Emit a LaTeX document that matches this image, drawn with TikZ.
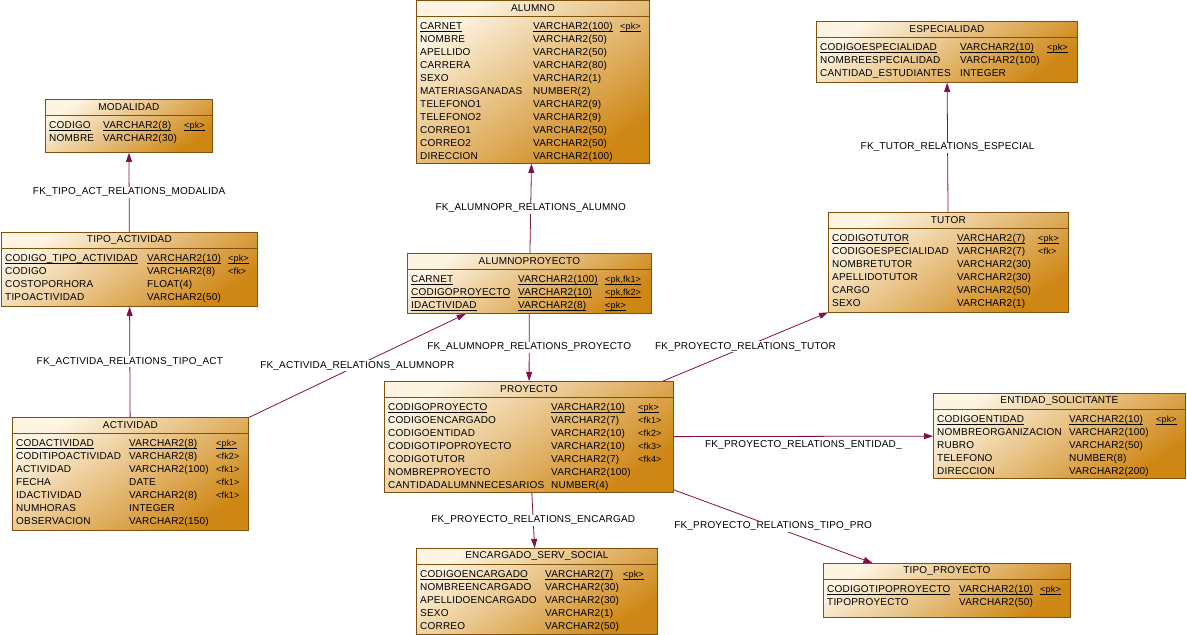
\documentclass[tikz,border=0pt]{standalone}
\usepackage{fontspec}
\setmainfont[LetterSpace=2]{Liberation Sans}
\usepackage{array}
\usepackage{tikz}
\usetikzlibrary{arrows.meta, shapes}

\definecolor{entitylight}{RGB}{253,244,226}
\definecolor{entitydark}{RGB}{206,134,20}
\definecolor{entityedge}{RGB}{128,80,12}
\definecolor{fkcolor}{RGB}{128,16,72}

\setlength{\tabcolsep}{0pt}
\newcolumntype{K}{>{\fontsize{9}{13}\selectfont}l}
\newcommand{\pkul}[1]{\underline{\smash{#1}\rule[-0.8pt]{0pt}{0pt}}}

\begin{document}
\begin{tikzpicture}[x=1pt, y=-1pt, font=\fontsize{10}{13}\selectfont,
  entity/.style={rectangle, draw=entityedge, line width=0.8pt,
    top color=entitylight, bottom color=entitydark, shading angle=35,
    anchor=north west, inner sep=0pt},
  %
  title/.style={anchor=north, minimum height=16.5pt, inner sep=0pt},
  %
  fields/.style={anchor=north west, inner xsep=4pt, inner ysep=3.5pt},
  %
  sepline/.style={draw=entityedge, line width=0.6pt},
  %
  fk/.style={draw=fkcolor, line width=0.8pt, -{Triangle[length=9pt,width=6pt]}},
  %
  fklabel/.style={midway, fill=white, inner sep=1pt}
  ]

  \useasboundingbox (0,0) rectangle (1187,635);

  \begin{scope}
    %%%%%%%%%%%%%%%%%%%%%%%%%%%%%%%
    \node [entity, minimum width=167, minimum height=53] (modalidad) at (45,99) {};
    \node [title] (modalidadT) at (modalidad.north) {MODALIDAD};
    \draw [sepline] ([yshift=-16.5pt]modalidad.north west) -- ([yshift=-16.5pt]modalidad.north east);
    \node [fields] (modalidadF) at ([yshift=-16.5pt]modalidad.north west) {%
      \begin{tabular}{@{}p{54pt}p{81pt}K@{}}
        \pkul{CODIGO} & \pkul{VARCHAR2(8)} & \pkul{<pk>}\\
        NOMBRE & VARCHAR2(30) & \\
      \end{tabular}};
    %%%%%%%%%%%%%%%%%%%%%%%%%%%%%%%
    \node [entity, minimum width=256, minimum height=74] (tipoact) at (1,232) {};
    \node [title] (tipoactT) at (tipoact.north) {TIPO\_ACTIVIDAD};
    \draw [sepline] ([yshift=-16.5pt]tipoact.north west) -- ([yshift=-16.5pt]tipoact.north east);
    \node [fields] (tipoactF) at ([yshift=-16.5pt]tipoact.north west) {%
      \begin{tabular}{@{}p{142pt}p{81pt}K@{}}
        \pkul{CODIGO\_TIPO\_ACTIVIDAD} & \pkul{VARCHAR2(10)} & \pkul{<pk>}\\
        CODIGO & VARCHAR2(8) & <fk>\\
        COSTOPORHORA & FLOAT(4) & \\
        TIPOACTIVIDAD & VARCHAR2(50) & \\
      \end{tabular}};
    %%%%%%%%%%%%%%%%%%%%%%%%%%%%%%%
    \node [entity, minimum width=236, minimum height=113] (actividad) at (12,417) {};
    \node [title] (actividadT) at (actividad.north) {ACTIVIDAD};
    \draw [sepline] ([yshift=-16.5pt]actividad.north west) -- ([yshift=-16.5pt]actividad.north east);
    \node [fields] (actividadF) at ([yshift=-16.5pt]actividad.north west) {%
      \begin{tabular}{@{}p{113pt}p{87pt}K@{}}
        \pkul{CODACTIVIDAD} & \pkul{VARCHAR2(8)} & \pkul{<pk>}\\
        CODITIPOACTIVIDAD & VARCHAR2(8) & <fk2>\\
        ACTIVIDAD & VARCHAR2(100) & <fk1>\\
        FECHA & DATE & <fk1>\\
        IDACTIVIDAD & VARCHAR2(8) & <fk1>\\
        NUMHORAS & INTEGER & \\
        OBSERVACION & VARCHAR2(150) & \\
      \end{tabular}};
    %%%%%%%%%%%%%%%%%%%%%%%%%%%%%%%
    \node [entity, minimum width=233, minimum height=163] (alumno) at (416,0) {};
    \node [title] (alumnoT) at (alumno.north) {ALUMNO};
    \draw [sepline] ([yshift=-16.5pt]alumno.north west) -- ([yshift=-16.5pt]alumno.north east);
    \node [fields] (alumnoF) at ([yshift=-16.5pt]alumno.north west) {%
      \begin{tabular}{@{}p{113pt}p{87pt}K@{}}
        \pkul{CARNET} & \pkul{VARCHAR2(100)} & \pkul{<pk>}\\
        NOMBRE & VARCHAR2(50) & \\
        APELLIDO & VARCHAR2(50) & \\
        CARRERA & VARCHAR2(80) & \\
        SEXO & VARCHAR2(1) & \\
        MATERIASGANADAS & NUMBER(2) & \\
        TELEFONO1 & VARCHAR2(9) & \\
        TELEFONO2 & VARCHAR2(9) & \\
        CORREO1 & VARCHAR2(50) & \\
        CORREO2 & VARCHAR2(50) & \\
        DIRECCION & VARCHAR2(100) & \\
      \end{tabular}};
    %%%%%%%%%%%%%%%%%%%%%%%%%%%%%%%
    \node [entity, minimum width=244, minimum height=60] (alumnoproy) at (407,253) {};
    \node [title] (alumnoproyT) at (alumnoproy.north) {ALUMNOPROYECTO};
    \draw [sepline] ([yshift=-16.5pt]alumnoproy.north west) -- ([yshift=-16.5pt]alumnoproy.north east);
    \node [fields] (alumnoproyF) at ([yshift=-16.5pt]alumnoproy.north west) {%
      \begin{tabular}{@{}p{107pt}p{87pt}K@{}}
        \pkul{CARNET} & \pkul{VARCHAR2(100)} & \pkul{<pk,fk1>}\\
        \pkul{CODIGOPROYECTO} & \pkul{VARCHAR2(10)} & \pkul{<pk,fk2>}\\
        \pkul{IDACTIVIDAD} & \pkul{VARCHAR2(8)} & \pkul{<pk>}\\
      \end{tabular}};
    %%%%%%%%%%%%%%%%%%%%%%%%%%%%%%%
    \node [entity, minimum width=289, minimum height=111] (proyecto) at (384,381) {};
    \node [title] (proyectoT) at (proyecto.north) {PROYECTO};
    \draw [sepline] ([yshift=-16.5pt]proyecto.north west) -- ([yshift=-16.5pt]proyecto.north east);
    \node [fields] (proyectoF) at ([yshift=-16.5pt]proyecto.north west) {%
      \begin{tabular}{@{}p{163pt}p{87pt}K@{}}
        \pkul{CODIGOPROYECTO} & \pkul{VARCHAR2(10)} & \pkul{<pk>}\\
        CODIGOENCARGADO & VARCHAR2(7) & <fk1>\\
        CODIGOENTIDAD & VARCHAR2(10) & <fk2>\\
        CODIGOTIPOPROYECTO & VARCHAR2(10) & <fk3>\\
        CODIGOTUTOR & VARCHAR2(7) & <fk4>\\
        NOMBREPROYECTO & VARCHAR2(100) & \\
        CANTIDADALUMNNECESARIOS & NUMBER(4) & \\
      \end{tabular}};
    %%%%%%%%%%%%%%%%%%%%%%%%%%%%%%%
    \node [entity, minimum width=261, minimum height=61] (especialidad) at (816,21) {};
    \node [title] (especialidadT) at (especialidad.north) {ESPECIALIDAD};
    \draw [sepline] ([yshift=-16.5pt]especialidad.north west) -- ([yshift=-16.5pt]especialidad.north east);
    \node [fields] (especialidadF) at ([yshift=-16.5pt]especialidad.north west) {%
      \begin{tabular}{@{}p{140pt}p{87pt}K@{}}
        \pkul{CODIGOESPECIALIDAD} & \pkul{VARCHAR2(10)} & \pkul{<pk>}\\
        NOMBREESPECIALIDAD & VARCHAR2(100) & \\
        CANTIDAD\_ESTUDIANTES & INTEGER & \\
      \end{tabular}};
    %%%%%%%%%%%%%%%%%%%%%%%%%%%%%%%
    \node [entity, minimum width=240, minimum height=100] (tutor) at (828,212) {};
    \node [title] (tutorT) at (tutor.north) {TUTOR};
    \draw [sepline] ([yshift=-16.5pt]tutor.north west) -- ([yshift=-16.5pt]tutor.north east);
    \node [fields] (tutorF) at ([yshift=-16.5pt]tutor.north west) {%
      \begin{tabular}{@{}p{125pt}p{81pt}K@{}}
        \pkul{CODIGOTUTOR} & \pkul{VARCHAR2(7)} & \pkul{<pk>}\\
        CODIGOESPECIALIDAD & VARCHAR2(7) & <fk>\\
        NOMBRETUTOR & VARCHAR2(30) & \\
        APELLIDOTUTOR & VARCHAR2(30) & \\
        CARGO & VARCHAR2(50) & \\
        SEXO & VARCHAR2(1) & \\
      \end{tabular}};
    %%%%%%%%%%%%%%%%%%%%%%%%%%%%%%%
    \node [entity, minimum width=252, minimum height=85] (entidad) at (933,393) {};
    \node [title] (entidadT) at (entidad.north) {ENTIDAD\_SOLICITANTE};
    \draw [sepline] ([yshift=-16.5pt]entidad.north west) -- ([yshift=-16.5pt]entidad.north east);
    \node [fields] (entidadF) at ([yshift=-16.5pt]entidad.north west) {%
      \begin{tabular}{@{}p{132pt}p{87pt}K@{}}
        \pkul{CODIGOENTIDAD} & \pkul{VARCHAR2(10)} & \pkul{<pk>}\\
        NOMBREORGANIZACION & VARCHAR2(100) & \\
        RUBRO & VARCHAR2(50) & \\
        TELEFONO & NUMBER(8) & \\
        DIRECCION & VARCHAR2(200) & \\
      \end{tabular}};
    %%%%%%%%%%%%%%%%%%%%%%%%%%%%%%%
    \node [entity, minimum width=241, minimum height=86] (encargado) at (416,548) {};
    \node [title] (encargadoT) at (encargado.north) {ENCARGADO\_SERV\_SOCIAL};
    \draw [sepline] ([yshift=-16.5pt]encargado.north west) -- ([yshift=-16.5pt]encargado.north east);
    \node [fields] (encargadoF) at ([yshift=-16.5pt]encargado.north west) {%
      \begin{tabular}{@{}p{125pt}p{78pt}K@{}}
        \pkul{CODIGOENCARGADO} & \pkul{VARCHAR2(7)} & \pkul{<pk>}\\
        NOMBREENCARGADO & VARCHAR2(30) & \\
        APELLIDOENCARGADO & VARCHAR2(30) & \\
        SEXO & VARCHAR2(1) & \\
        CORREO & VARCHAR2(50) & \\
      \end{tabular}};
    %%%%%%%%%%%%%%%%%%%%%%%%%%%%%%%
    \node [entity, minimum width=247, minimum height=54] (tipoproy) at (823,563) {};
    \node [title] (tipoproyT) at (tipoproy.north) {TIPO\_PROYECTO};
    \draw [sepline] ([yshift=-16.5pt]tipoproy.north west) -- ([yshift=-16.5pt]tipoproy.north east);
    \node [fields] (tipoproyF) at ([yshift=-16.5pt]tipoproy.north west) {%
      \begin{tabular}{@{}p{132pt}p{81pt}K@{}}
        \pkul{CODIGOTIPOPROYECTO} & \pkul{VARCHAR2(10)} & \pkul{<pk>}\\
        TIPOPROYECTO & VARCHAR2(50) & \\
      \end{tabular}};
  \end{scope}

  \begin{scope}
    \draw [fk] (tipoact) -- (modalidad)
    node [fklabel] {FK\_TIPO\_ACT\_RELATIONS\_MODALIDA};
    \draw [fk] (actividad) -- (tipoact)
    node [fklabel] {FK\_ACTIVIDA\_RELATIONS\_TIPO\_ACT};
    \draw [fk] (alumnoproy) -- (alumno)
    node [fklabel] {FK\_ALUMNOPR\_RELATIONS\_ALUMNO};
    \draw [fk] (alumnoproy) -- (proyecto)
    node [fklabel] {FK\_ALUMNOPR\_RELATIONS\_PROYECTO};
    \draw [fk] (actividad) -- (alumnoproy)
    node [fklabel] {FK\_ACTIVIDA\_RELATIONS\_ALUMNOPR};
    \draw [fk] (tutor) -- (especialidad)
    node [fklabel] {FK\_TUTOR\_RELATIONS\_ESPECIAL};
    \draw [fk] (proyecto) -- (tutor)
    node [fklabel] {FK\_PROYECTO\_RELATIONS\_TUTOR};
    \draw [fk] (proyecto) -- (entidad)
    node [midway, below=2.5pt, inner sep=1pt] {FK\_PROYECTO\_RELATIONS\_ENTIDAD\_};
    \draw [fk] (proyecto) -- (encargado)
    node [fklabel] {FK\_PROYECTO\_RELATIONS\_ENCARGAD};
    \draw [fk] (proyecto) -- (tipoproy)
    node [fklabel] {FK\_PROYECTO\_RELATIONS\_TIPO\_PRO};
  \end{scope}

\end{tikzpicture}
\end{document}
